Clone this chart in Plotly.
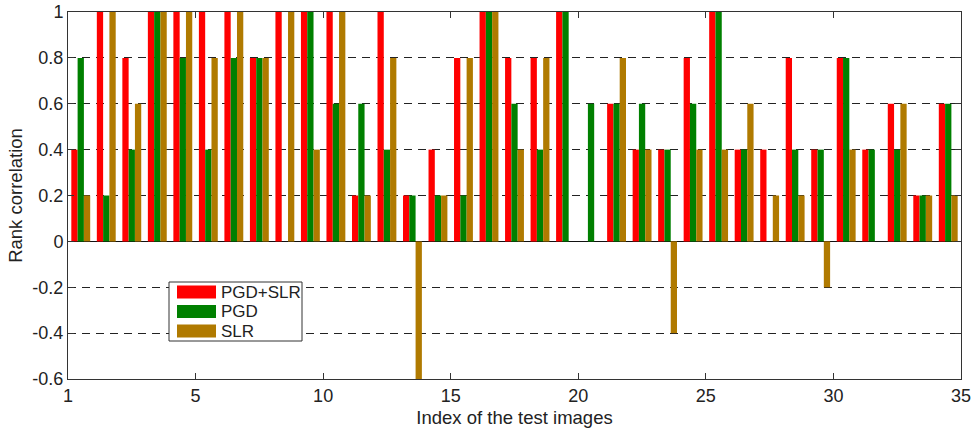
import plotly.graph_objects as go

# Test image index (1..35)
image_index = list(range(1, 35 + 1))

# Rank correlation per test image
pgd_slr = [0.4, 1.0, 0.8, 1.0, 1.0, 1.0, 1.0, 0.8, 1.0, 1.0,
           1.0, 0.2, 1.0, 0.2, 0.4, 0.8, 1.0, 0.8, 0.8, 1.0,
           0.0, 0.6, 0.4, 0.4, 0.8, 1.0, 0.4, 0.4, 0.8, 0.4,
           0.8, 0.4, 0.6, 0.2, 0.6]
pgd = [0.8, 0.2, 0.4, 1.0, 0.8, 0.4, 0.8, 0.8, 0.0, 1.0,
       0.6, 0.6, 0.4, 0.2, 0.2, 0.2, 1.0, 0.6, 0.4, 1.0,
       0.6, 0.6, 0.6, 0.4, 0.6, 1.0, 0.4, 0.0, 0.4, 0.4,
       0.8, 0.4, 0.4, 0.2, 0.6]
slr = [0.2, 1.0, 0.6, 1.0, 1.0, 0.8, 1.0, 0.8, 1.0, 0.4,
       1.0, 0.2, 0.8, -0.6, 0.2, 0.8, 1.0, 0.4, 0.8, 0.0,
       0.0, 0.8, 0.4, -0.4, 0.4, 0.4, 0.6, 0.2, 0.2, -0.2,
       0.4, 0.0, 0.6, 0.2, 0.2]

series_names = ["PGD+SLR", "PGD", "SLR"]
series_colors = ["#FF0000", "#008000", "#B07A00"]

x_tick_vals = [0, 5, 10, 15, 20, 25, 30, 35]
x_tick_text = ["1", "5", "10", "15", "20", "25", "30", "35"]
y_tick_vals = [-0.6, -0.4, -0.2, 0, 0.2, 0.4, 0.6, 0.8, 1.0]
y_tick_text = ["-0.6", "-0.4", "-0.2", "0", "0.2", "0.4", "0.6", "0.8", "1"]

# bars are centred between integer positions (group i sits at i - 0.5)
xpos = [i - 0.5 for i in image_index]

FONT = "Liberation Sans, Arial, sans-serif"
W, H = 973, 428
ML, MR, MT, MB = 68, 12, 12, 49
PW, PH = W - ML - MR, H - MT - MB


def px(xp):
    return (xp - ML) / PW


def py(yp):
    return 1 - (yp - MT) / PH


fig = go.Figure()
for name, vals, col in zip(series_names, [pgd_slr, pgd, slr], series_colors):
    fig.add_trace(go.Bar(x=xpos, y=vals, name=name, showlegend=False,
                         marker=dict(color=col, line=dict(width=0))))

# legend box drawn in the lower-left part of the plot, as in the original
shapes = [dict(type="rect", xref="paper", yref="paper",
               x0=px(169), x1=px(302), y0=py(341), y1=py(282),
               line=dict(color="#333", width=1), fillcolor="white", layer="above")]
annotations = []
for k, (name, col) in enumerate(zip(series_names, series_colors)):
    yc = 292 + k * 19.5
    shapes.append(dict(type="rect", xref="paper", yref="paper",
                       x0=px(177), x1=px(216), y0=py(yc + 6.5), y1=py(yc - 6.5),
                       line=dict(width=0), fillcolor=col, layer="above"))
    annotations.append(dict(xref="paper", yref="paper", x=px(219), y=py(yc),
                            xanchor="left", yanchor="middle", showarrow=False,
                            text=name, font=dict(family=FONT, size=17, color="#222")))

fig.update_layout(
    width=W, height=H,
    margin=dict(l=ML, r=MR, t=MT, b=MB),
    paper_bgcolor="white", plot_bgcolor="white",
    barmode="group", bargap=0.26, bargroupgap=0,
    font=dict(family=FONT, size=18, color="#222"),
    shapes=shapes, annotations=annotations,
    xaxis=dict(
        range=[0, 35], tickmode="array", tickvals=x_tick_vals, ticktext=x_tick_text,
        ticks="inside", ticklen=6, tickcolor="#333", mirror="ticks",
        showline=True, linecolor="#333", linewidth=1,
        showgrid=False, zeroline=False, automargin=False,
        tickfont=dict(size=18),
        title=dict(text="Index of the test images", font=dict(size=18.5), standoff=8),
    ),
    yaxis=dict(
        range=[-0.6, 1.0], tickmode="array", tickvals=y_tick_vals, ticktext=y_tick_text,
        ticks="inside", ticklen=6, tickcolor="#333", mirror="ticks",
        showline=True, linecolor="#333", linewidth=1,
        showgrid=True, gridcolor="#222", gridwidth=1, griddash="8px,6px",
        zeroline=True, zerolinecolor="#111", zerolinewidth=1, automargin=False,
        tickfont=dict(size=18),
        title=dict(text="Rank correlation", font=dict(size=18.5), standoff=4),
    ),
)

fig.write_html("out.html")
